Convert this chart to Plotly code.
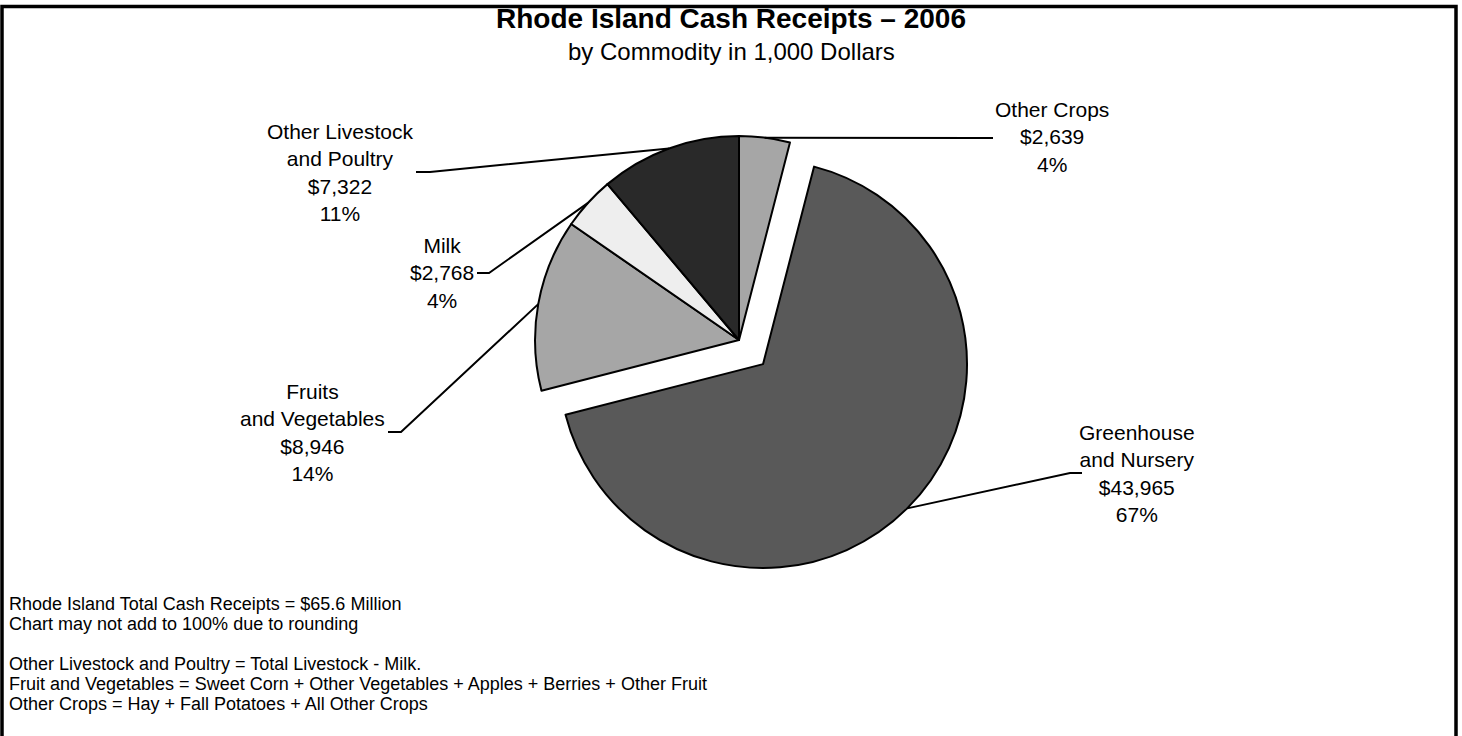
import math
import plotly.graph_objects as go

W, H = 1462, 736

# ---- data ----
categories = ["Other Crops", "Greenhouse and Nursery", "Fruits and Vegetables", "Milk",
              "Other Livestock and Poultry"]
label_text = ["Other Crops", "Greenhouse<br>and Nursery", "Fruits<br>and Vegetables", "Milk",
              "Other Livestock<br>and Poultry"]
values = [2639, 43965, 8946, 2768, 7322]
percent_labels = ["4%", "67%", "14%", "4%", "11%"]
colors = ["#a6a6a6", "#595959", "#a6a6a6", "#eeeeee", "#292929"]
pulls = [0, 0.167, 0, 0, 0]

title = "Rhode Island Cash Receipts \u2013 2006"
subtitle = "by Commodity in 1,000 Dollars"
footer_lines = [
    "Rhode Island Total Cash Receipts = $65.6 Million",
    "Chart may not add to 100% due to rounding",
    "Other Livestock and Poultry = Total Livestock - Milk.",
    "Fruit and Vegetables = Sweet Corn + Other Vegetables + Apples + Berries + Other Fruit",
    "Other Crops = Hay + Fall Potatoes + All Other Crops",
]

# ---- layout geometry (pixels) ----
PIE_CX, PIE_CY = 739, 340
PIE_HALF = 238  # half of pie box
FONT = "Liberation Sans, Arial, sans-serif"

def px(x):
    return x / W

def py(y):
    return 1 - y / H

dom_x = [px(PIE_CX - PIE_HALF), px(PIE_CX + PIE_HALF)]
dom_y = [py(PIE_CY + PIE_HALF), py(PIE_CY - PIE_HALF)]
R = PIE_HALF / (1 + max(pulls))

# label placement: (center x, center y), leader start, elbow
label_pos = [(1052, 137), (1137, 473), (312, 432), (442, 273), (340, 172)]
leader_start = [(993, 138), (1082, 473), (388, 432), (477, 273), (416, 172)]
leader_elbow = [(980, 138), (1070, 473), (401, 432), (489, 273), (430, 172)]

fig = go.Figure(go.Pie(
    labels=categories,
    values=values,
    sort=False,
    direction="clockwise",
    rotation=0,
    pull=pulls,
    marker=dict(colors=colors, line=dict(color="black", width=2)),
    textinfo="none",
    hoverinfo="label+value+percent",
    showlegend=False,
    domain=dict(x=dom_x, y=dom_y),
))

annotations = []
shapes = []
total = sum(values)
cum = 0
for i, v in enumerate(values):
    mid = (cum + v / 2) / total
    cum += v
    ang = 2 * math.pi * mid
    d = R * (1 + pulls[i])
    ex = PIE_CX + d * math.sin(ang)
    ey = PIE_CY - d * math.cos(ang)
    sx, sy = leader_start[i]
    kx, ky = leader_elbow[i]
    path = f"M {px(sx)} {py(sy)} L {px(kx)} {py(ky)} L {px(ex)} {py(ey)}"
    shapes.append(dict(type="path", xref="paper", yref="paper", path=path,
                       line=dict(color="black", width=2)))
    lx, ly = label_pos[i]
    txt = f"{label_text[i]}<br>${values[i]:,}<br>{percent_labels[i]}"
    annotations.append(dict(x=px(lx), y=py(ly), xref="paper", yref="paper",
                            text=txt, showarrow=False, xanchor="center", yanchor="middle",
                            font=dict(family=FONT, size=21, color="black"), align="center"))

annotations.append(dict(x=px(731), y=py(19), xref="paper", yref="paper",
                        text=f"<b>{title}</b>", showarrow=False, xanchor="center",
                        yanchor="middle", font=dict(family=FONT, size=28, color="black")))
annotations.append(dict(x=px(731), y=py(51), xref="paper", yref="paper",
                        text=subtitle, showarrow=False, xanchor="center",
                        yanchor="middle", font=dict(family=FONT, size=24, color="black")))

footer_y = [604, 624, 664, 684, 704]
for t, yy in zip(footer_lines, footer_y):
    annotations.append(dict(x=px(7), y=py(yy), xref="paper", yref="paper", text=t,
                            showarrow=False, xanchor="left", yanchor="middle",
                            font=dict(family=FONT, size=18, color="black")))

# frame
shapes.append(dict(type="path", xref="paper", yref="paper",
                   path=f"M {px(2)} {py(745)} L {px(2)} {py(6.5)} L {px(1456)} {py(6.5)} L {px(1456)} {py(745)}",
                   line=dict(color="black", width=3.5)))

fig.update_layout(
    width=W, height=H,
    margin=dict(l=0, r=0, t=0, b=0),
    paper_bgcolor="white", plot_bgcolor="white",
    annotations=annotations, shapes=shapes,
)

fig.write_html("out.html")
